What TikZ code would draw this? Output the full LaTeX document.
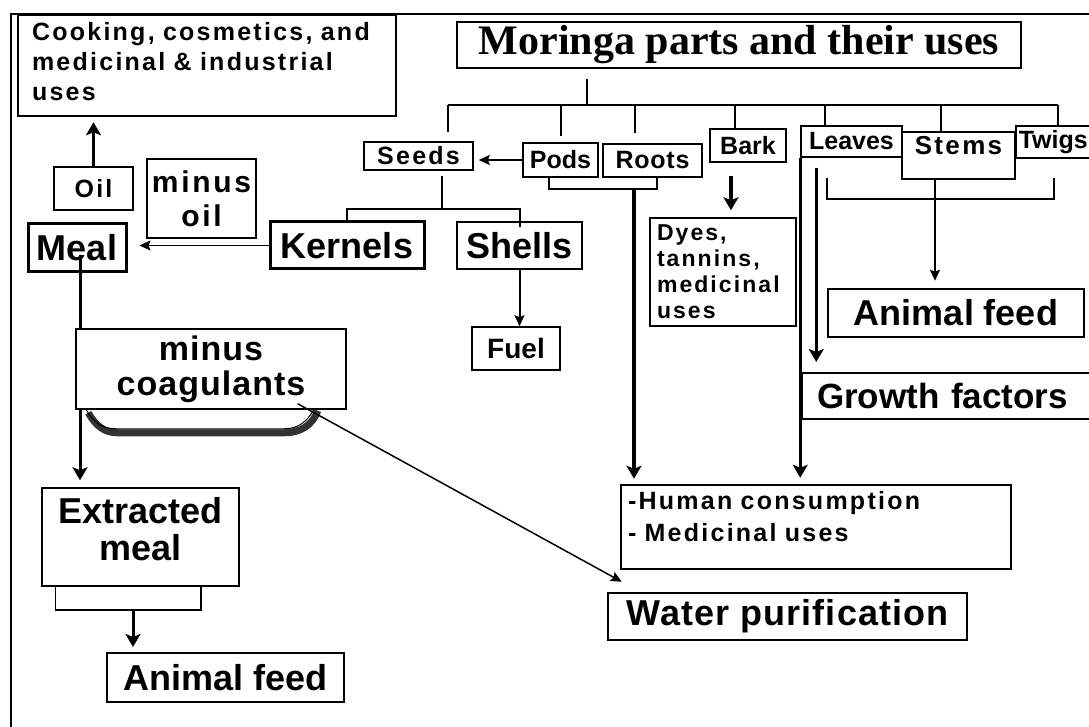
\documentclass[tikz,border=0pt]{standalone}
\usepackage{fontspec}
\setmainfont{Liberation Sans}
\newfontfamily\titlefont{Liberation Serif}
\usetikzlibrary{arrows.meta,calc}
\newcommand{\fsz}[2]{\fontsize{#1}{#2}\selectfont\bfseries}
\newcommand{\fszl}[2]{\fsz{#1}{#2}\addfontfeature{LetterSpace=9}}

\begin{document}
\begin{tikzpicture}[x=1pt,y=-1pt,
  box/.style={draw,line width=1.5pt,inner sep=0pt,align=center},
  heavy/.style={box,line width=2.5pt},
  conn/.style={line width=2pt},
  thin arrow/.style={line width=1.5pt,-{Stealth[length=11pt,width=10pt,inset=2pt]}},
  thick arrow/.style={line width=3.5pt,-{Stealth[length=13pt,width=15pt,inset=3pt]}}]

\clip (0,0) rectangle (1089,727);

% frame
\draw[line width=2.5pt] (11,727) -- (11,14) -- (1089,14);

% boxes
\node[heavy,minimum width=564,minimum height=46,font=\titlefont\fsz{42}{44}] (title) at (739,45) {Moringa parts and their uses};
\node[heavy,minimum width=378,minimum height=101,text width=350,text depth=68pt,align=left,font=\fszl{25}{30}] (cook) at (207,65.5) {Cooking, cosmetics, and\\medicinal \& industrial\\uses};
\node[box,minimum width=79,minimum height=43,font=\fszl{25}{30}] (oil) at (93.5,188.5) {Oil};
\node[box,minimum width=109,minimum height=79,font=\fszl{30}{34}] (minusoil) at (201.5,198.5) {minus\\oil};
\node[heavy,line width=3pt,minimum width=98,minimum height=48,font=\fsz{36}{40}] (meal) at (77,248) {Meal};
\node[heavy,line width=3pt,minimum width=154,minimum height=47,font=\fsz{36}{40}] (kernels) at (347,245.5) {Kernels};
\node[heavy,minimum width=125,minimum height=47,font=\fsz{36}{40}] (shells) at (519.5,245.5) {Shells};
\node[box,minimum width=109,minimum height=28,font=\fszl{25}{30}] (seeds) at (418.5,156) {Seeds};
\node[box,minimum width=75,minimum height=34,font=\fsz{25}{30}] (pods) at (560.5,160) {Pods};
\node[box,minimum width=99,minimum height=33,font=\fsz{25}{30}\addfontfeature{LetterSpace=3}] (roots) at (652.5,160.5) {Roots};
\node[box,minimum width=76,minimum height=33,font=\fsz{25}{30}] (bark) at (748,145.5) {Bark};
\node[box,minimum width=101,minimum height=31,font=\fsz{25}{30}] (leaves) at (851.5,141.5) {Leaves};
\node[box,minimum width=113,minimum height=47,text depth=20pt,font=\fszl{26}{30}] (stems) at (958.5,155.5) {Stems};
\node[box,anchor=west,minimum height=32,text width=80,inner xsep=3pt,align=left,font=\fsz{25}{30}] (twigs) at (1015,142) {Twigs};
\node[box,minimum width=146,minimum height=108,text width=132,align=left,font=\fszl{23}{26}] (dyes) at (723,272) {Dyes,\\tannins,\\medicinal\\uses};
\node[heavy,minimum width=256,minimum height=48,font=\fsz{36}{40}] (animalR) at (956,313) {Animal feed};
\node[heavy,line width=2pt,anchor=west,minimum height=46,text width=300,inner xsep=15pt,align=left,font=\fsz{35}{40}] (growth) at (801,396) {Growth factors};
\node[heavy,minimum width=390,minimum height=84,text width=376,inner xsep=7pt,text depth=54pt,align=left,font=\fszl{25}{32}] (human) at (816,527) {-Human consumption\\- Medicinal uses};
\node[heavy,minimum width=359,minimum height=47,font=\fsz{36}{40}\addfontfeature{LetterSpace=3}] (water) at (787.5,616.5) {Water purification};
\node[box,minimum width=270,minimum height=80,font=\fsz{34}{35}\addfontfeature{LetterSpace=3}] (coag) at (211,369) {minus\\coagulants};
\node[box,minimum width=197,minimum height=98,text width=180,text depth=54pt,align=center,font=\fsz{36}{37}] (extracted) at (140.5,537) {Extracted\\meal};
\node[heavy,line width=2pt,minimum width=237,minimum height=49,font=\fsz{36}{40}] (animalL) at (225.5,677.5) {Animal feed};
\node[box,minimum width=88,minimum height=43,font=\fsz{28}{30}] (fuel) at (516,348.5) {Fuel};

% tree under the title
\coordinate (hub) at ($(title.south)+(-152,36)$);
\draw[conn] ($(title.south)+(-152,10)$) -- (hub);
\foreach \n/\dx/\gap in {seeds/29.5/9,pods/0/6,roots/-17.5/10,bark/-13/0,leaves/-26.5/0,stems/-17.5/0,twigs/-1/0}{
  \coordinate (t-\n) at ($(\n.north)+(\dx,-\gap)$);
  \draw[conn] (t-\n) -- (t-\n |- hub);
}
\draw[conn] (t-seeds |- hub) -- (t-twigs |- hub);

% seeds
\coordinate (s-drop) at ($(seeds.south)+(23.5,5)$);
\draw[conn] (s-drop) -- ++(0,33) coordinate (s-hub);
\draw[conn] (kernels.north) -- (kernels.north |- s-hub) -- (shells.north |- s-hub) -- ($(shells.north)+(0,6)$);
\draw[thin arrow,line width=2pt,shorten >=5pt] (pods.west) -- (pods.west -| seeds.east);
\draw[thin arrow,shorten >=12pt] (kernels.west) -- (kernels.west -| meal.east);
\draw[thin arrow,line width=2pt] (shells.south) -- (shells.south |- fuel.north);
\draw[thick arrow,shorten >=5pt] (oil.north) -- (oil.north |- cook.south);

% pods and roots
\coordinate (p-drop) at ($(pods.south)+(-11.5,0)$);
\coordinate (r-drop) at ($(roots.south)+(4.5,0)$);
\draw[conn] (p-drop) -- ++(0,11) coordinate (pr-left) -| (r-drop);
\coordinate (pr) at ($(pr-left)+(85,0)$);
\draw[thick arrow,shorten >=5pt] (pr) -- (pr |- human.north);

% bark
\coordinate (b-drop) at ($(bark.south)+(-17,13)$);
\draw[thick arrow,shorten >=7pt] (b-drop) -- (b-drop |- dyes.north);

% leaves, stems, twigs
\draw[thick arrow,shorten >=6pt] (leaves.south west) -- (leaves.south west |- human.north);
\coordinate (l-drop) at ($(leaves.south west)+(16,10)$);
\draw[thick arrow,shorten >=10pt] (l-drop) -- (l-drop |- growth.north);
\draw[conn] ($(leaves.south)+(-24.5,20)$) -- ++(0,21) -| ($(twigs.south)+(-5,19)$);
\coordinate (st-drop) at ($(stems.south)+(-23.5,0)$);
\draw[thin arrow,line width=2pt,shorten >=7pt] (st-drop) -- (st-drop |- animalR.north);

% meal
\coordinate (m-drop) at ($(meal.center)+(3,7)$);
\draw[line width=3pt] (m-drop) -- (m-drop |- coag.north);
\draw[thick arrow,line width=3pt,shorten >=7pt] (m-drop |- coag.south) -- (m-drop |- extracted.north);
\draw[line width=7pt,black!80] ($(coag.south west)+(13,3)$) to[out=-60,in=180] ($(coag.south west)+(42,23)$) -- ($(coag.south east)+(-62,23)$) to[out=0,in=-110] ($(coag.south east)+(-29,1)$);
\draw[line width=1pt] ($(coag.south west)+(11,0)$) to[out=-60,in=180] ($(coag.south west)+(40,19)$) -- ($(coag.south east)+(-62,19)$) to[out=0,in=-120] ($(coag.south east)+(-33,0)$);
\draw[thin arrow] ($(coag.south east)+(-49,-6)$) -- ($(water.north west)+(15,-10)$);

% extracted meal
\draw[conn,line width=1.5pt] ($(extracted.south west)+(14,0)$) -- ++(0,23) -| ($(extracted.south east)+(-39,0)$);
\coordinate (e-drop) at ($(extracted.south)+(-7.5,23)$);
\draw[thick arrow,line width=3pt,shorten >=5pt] (e-drop) -- (e-drop |- animalL.north);

\end{tikzpicture}
\end{document}
